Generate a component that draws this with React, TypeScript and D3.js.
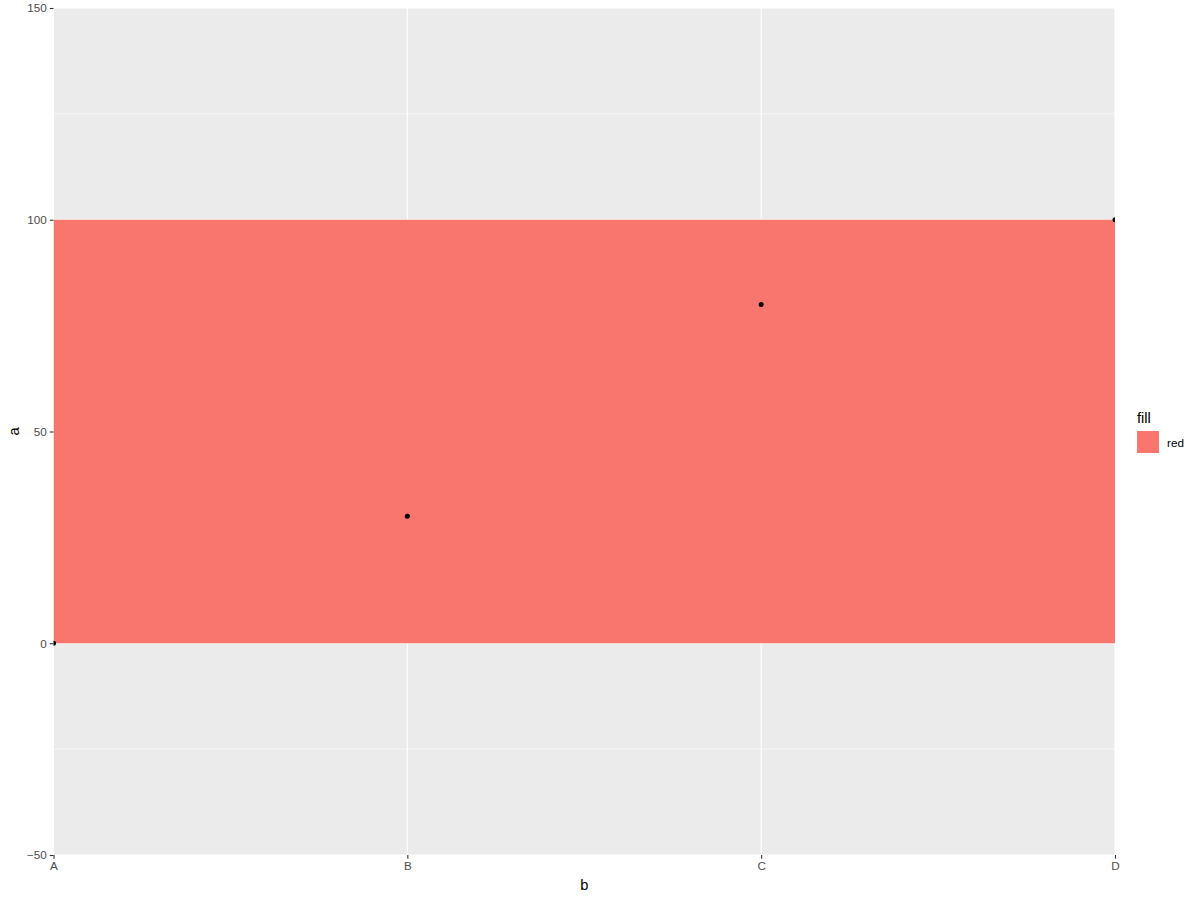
import { useEffect, useRef } from 'react';
import * as d3 from 'd3';

const categories = ['A', 'B', 'C', 'D'];
const values = [0, 30, 80, 100];
const rectRange = [0, 100];
const yTicks = [-50, 0, 50, 100, 150];
const yMinor = [-25, 25, 75, 125];
const legendTitle = 'fill';
const legendLabels = ['red'];

const W = 1200;
const H = 900;

export default function App() {
  const ref = useRef<SVGSVGElement | null>(null);

  useEffect(() => {
    document.body.style.margin = '0';
    if (!ref.current) return;
    const svg = d3.select(ref.current);
    svg.selectAll('*').remove();

    const margin = { top: 8, right: 85, bottom: 45, left: 53.5 };
    const innerW = W - margin.left - margin.right;
    const innerH = H - margin.top - margin.bottom;

    const x = d3.scalePoint<string>().domain(categories).range([0, innerW]).padding(0);
    const y = d3.scaleLinear().domain([-50, 150]).range([innerH, 0]);

    const font = '"Liberation Sans", Arial, sans-serif';

    svg.append('defs')
      .append('clipPath')
      .attr('id', 'panel-clip')
      .append('rect')
      .attr('width', innerW)
      .attr('height', innerH);

    const g = svg.append('g').attr('transform', `translate(${margin.left}, ${margin.top})`);

    // panel background
    g.append('rect').attr('width', innerW).attr('height', innerH).attr('fill', '#EBEBEB');

    // minor grid
    g.selectAll('.minor')
      .data(yMinor)
      .join('line')
      .attr('x1', 0)
      .attr('x2', innerW)
      .attr('y1', (d) => y(d))
      .attr('y2', (d) => y(d))
      .attr('stroke', '#fff')
      .attr('stroke-width', 0.55);

    // major grid
    g.selectAll('.hmajor')
      .data(yTicks)
      .join('line')
      .attr('x1', 0)
      .attr('x2', innerW)
      .attr('y1', (d) => y(d))
      .attr('y2', (d) => y(d))
      .attr('stroke', '#fff')
      .attr('stroke-width', 1.1);

    g.selectAll('.vmajor')
      .data(categories)
      .join('line')
      .attr('x1', (d) => x(d) || 0)
      .attr('x2', (d) => x(d) || 0)
      .attr('y1', 0)
      .attr('y2', innerH)
      .attr('stroke', '#fff')
      .attr('stroke-width', 1.1);

    const panel = g.append('g').attr('clip-path', 'url(#panel-clip)');

    // filled band
    panel.append('rect')
      .attr('x', x(categories[0]) || 0)
      .attr('width', (x(categories[categories.length - 1]) || 0) - (x(categories[0]) || 0))
      .attr('y', y(rectRange[1]))
      .attr('height', y(rectRange[0]) - y(rectRange[1]))
      .attr('fill', '#F8766D');

    // points
    panel.selectAll('circle')
      .data(values)
      .join('circle')
      .attr('cx', (_, i) => x(categories[i]) || 0)
      .attr('cy', (d) => y(d))
      .attr('r', 2.5)
      .attr('fill', '#000');

    // y axis
    const yAxis = g.append('g').call(d3.axisLeft(y).tickValues(yTicks).tickSize(3.7).tickPadding(3));
    yAxis.select('.domain').remove();
    yAxis.selectAll('line').attr('stroke', '#333333').attr('stroke-width', 1.1);
    yAxis.selectAll('text')
      .attr('fill', '#4D4D4D')
      .style('font-family', font)
      .style('font-size', '11.7px');

    // x axis
    const xAxis = g.append('g')
      .attr('transform', `translate(0, ${innerH})`)
      .call(d3.axisBottom(x).tickSize(3.7).tickPadding(3));
    xAxis.select('.domain').remove();
    xAxis.selectAll('line').attr('stroke', '#333333').attr('stroke-width', 1.1);
    xAxis.selectAll('text')
      .attr('fill', '#4D4D4D')
      .style('font-family', font)
      .style('font-size', '11.7px');

    // axis titles
    svg.append('text')
      .attr('x', margin.left + innerW / 2)
      .attr('y', 890)
      .attr('text-anchor', 'middle')
      .style('font-family', font)
      .style('font-size', '14.7px')
      .text('b');

    svg.append('text')
      .attr('transform', `translate(19, ${margin.top + innerH / 2}) rotate(-90)`)
      .attr('text-anchor', 'middle')
      .style('font-family', font)
      .style('font-size', '14.7px')
      .text('a');

    // legend
    const legend = svg.append('g').attr('transform', 'translate(1137, 0)');
    legend.append('text')
      .attr('x', 0)
      .attr('y', 423)
      .style('font-family', font)
      .style('font-size', '14.7px')
      .text(legendTitle);

    legendLabels.forEach((label, i) => {
      const item = legend.append('g').attr('transform', `translate(0, ${431 + i * 22})`);
      item.append('rect').attr('width', 22).attr('height', 22).attr('fill', '#F8766D');
      item.append('text')
        .attr('x', 30)
        .attr('y', 16)
        .style('font-family', font)
        .style('font-size', '11.7px')
        .text(label);
    });
  }, []);

  return <svg ref={ref} width={W} height={H} style={{ display: 'block', overflow: 'visible' }} />;
}
